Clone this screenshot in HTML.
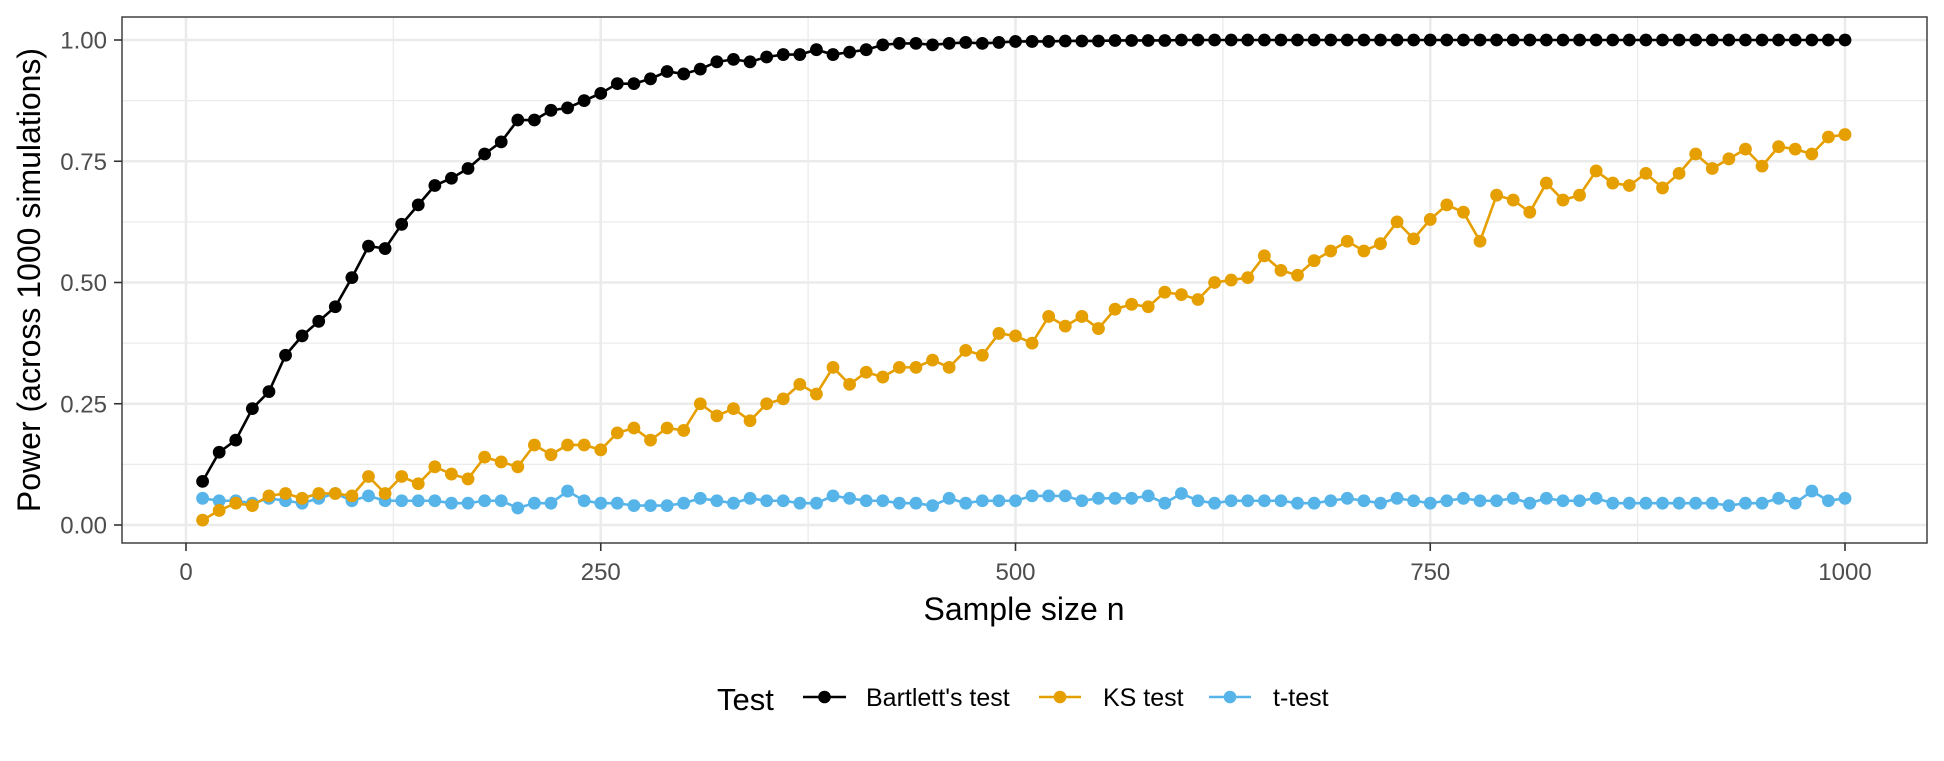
<!DOCTYPE html>
<html><head><meta charset="utf-8"><style>
body{margin:0;background:#fff;font-family:"Liberation Sans",sans-serif;}
svg text{font-family:"Liberation Sans",sans-serif;}
</style></head><body>
<svg id="chart" width="1944" height="756" xmlns="http://www.w3.org/2000/svg">
<rect x="0" y="0" width="1944" height="756" fill="#fff"/>
<g id="grid"></g>
<g id="series"></g>
<rect x="122" y="17" width="1805" height="526" fill="none" stroke="#333" stroke-width="1.4"/>
<g id="axes"></g>
<text x="40" y="280" font-size="32" text-anchor="middle" transform="rotate(-90 40 280)" fill="#000">Power (across 1000 simulations)</text>
<text x="1024" y="620" font-size="32" text-anchor="middle" fill="#000">Sample size n</text>
<g>
<text x="717" y="710" font-size="31" fill="#000">Test</text>
<g><line x1="803" y1="697" x2="846" y2="697" stroke="#000" stroke-width="2.6"/><circle cx="824.5" cy="697" r="6.3" fill="#000"/><text x="866" y="706" font-size="25" fill="#000">Bartlett's test</text></g>
<g><line x1="1039" y1="697" x2="1081" y2="697" stroke="#E69F00" stroke-width="2.6"/><circle cx="1060" cy="697" r="6.3" fill="#E69F00"/><text x="1103" y="706" font-size="25" fill="#000">KS test</text></g>
<g><line x1="1209" y1="697" x2="1251" y2="697" stroke="#56B4E9" stroke-width="2.6"/><circle cx="1230" cy="697" r="6.3" fill="#56B4E9"/><text x="1273" y="706" font-size="25" fill="#000">t-test</text></g>
</g>
</svg>
<script>
const sampleSizes = Array.from({length:100},(_,i)=>(i+1)*10);
const bartlett = [0.09,0.15,0.175,0.24,0.275,0.35,0.39,0.42,0.45,0.51,0.575,0.57,0.62,0.66,0.70,0.715,0.735,0.765,0.79,0.835,0.835,0.855,0.86,0.875,0.89,0.91,0.91,0.92,0.935,0.93,0.94,0.955,0.96,0.955,0.965,0.97,0.97,0.98,0.97,0.975,0.98,0.99,0.993,0.993,0.99,0.993,0.995,0.993,0.995,0.997,0.997,0.997,0.998,0.998,0.998,0.999,0.999,0.999,0.999,1,1,1,1,1,1,1,1,1,1,1,1,1,1,1,1,1,1,1,1,1,1,1,1,1,1,1,1,1,1,1,1,1,1,1,1,1,1,1,1,1];
const ks = [0.01,0.03,0.045,0.04,0.06,0.065,0.055,0.065,0.065,0.06,0.10,0.065,0.10,0.085,0.12,0.105,0.095,0.14,0.13,0.12,0.165,0.145,0.165,0.165,0.155,0.19,0.20,0.175,0.20,0.195,0.25,0.225,0.24,0.215,0.25,0.26,0.29,0.27,0.325,0.29,0.315,0.305,0.325,0.325,0.34,0.325,0.36,0.35,0.395,0.39,0.375,0.43,0.41,0.43,0.405,0.445,0.455,0.45,0.48,0.475,0.465,0.50,0.505,0.51,0.555,0.525,0.515,0.545,0.565,0.585,0.565,0.58,0.625,0.59,0.63,0.66,0.645,0.585,0.68,0.67,0.645,0.705,0.67,0.68,0.73,0.705,0.70,0.725,0.695,0.725,0.765,0.735,0.755,0.775,0.74,0.78,0.775,0.765,0.80,0.805];
const ttest = [0.055,0.05,0.05,0.045,0.055,0.05,0.045,0.055,0.065,0.05,0.06,0.05,0.05,0.05,0.05,0.045,0.045,0.05,0.05,0.035,0.045,0.045,0.07,0.05,0.045,0.045,0.04,0.04,0.04,0.045,0.055,0.05,0.045,0.055,0.05,0.05,0.045,0.045,0.06,0.055,0.05,0.05,0.045,0.045,0.04,0.055,0.045,0.05,0.05,0.05,0.06,0.06,0.06,0.05,0.055,0.055,0.055,0.06,0.045,0.065,0.05,0.045,0.05,0.05,0.05,0.05,0.045,0.045,0.05,0.055,0.05,0.045,0.055,0.05,0.045,0.05,0.055,0.05,0.05,0.055,0.045,0.055,0.05,0.05,0.055,0.045,0.045,0.045,0.045,0.045,0.045,0.045,0.04,0.045,0.045,0.055,0.045,0.07,0.05,0.055];
const xTicks = [0,250,500,750,1000];
const yTicks = [0,0.25,0.5,0.75,1];
const yTickLabels = ["0.00","0.25","0.50","0.75","1.00"];

const NS="http://www.w3.org/2000/svg";
const xs = v => 186 + v*(1845-186)/1000;
const ys = v => 525 - v*485;
function mk(tag, attrs, parent){const e=document.createElementNS(NS,tag);for(const k in attrs)e.setAttribute(k,attrs[k]);parent.appendChild(e);return e;}
const grid=document.getElementById('grid'), axes=document.getElementById('axes'), series=document.getElementById('series');
for(let i=0;i<4;i++){
  const l=mk('line',{x1:122,x2:1927,y1:ys(0.125+i*0.25),y2:ys(0.125+i*0.25),stroke:'#ebebeb','stroke-width':1.3},grid);
  
  
  const m=mk('line',{y1:17,y2:543,x1:xs(125+i*250),x2:xs(125+i*250),stroke:'#ebebeb','stroke-width':1.3},grid);
  
  
}
yTicks.forEach((t,i)=>{
  const l=mk('line',{x1:122,x2:1927,y1:ys(t),y2:ys(t),stroke:'#ebebeb','stroke-width':2.6},grid);
  
  
  mk('line',{x1:114,x2:122,y1:ys(t),y2:ys(t),stroke:'#333','stroke-width':1.6},axes);
  const tx=mk('text',{x:107,y:ys(t)+8.5,'font-size':24,'text-anchor':'end',fill:'#4d4d4d'},axes);
  tx.textContent=yTickLabels[i];
  
  
});
xTicks.forEach(t=>{
  const l=mk('line',{y1:17,y2:543,x1:xs(t),x2:xs(t),stroke:'#ebebeb','stroke-width':2.6},grid);
  
  
  mk('line',{y1:543,y2:551,x1:xs(t),x2:xs(t),stroke:'#333','stroke-width':1.6},axes);
  const tx=mk('text',{x:xs(t),y:580,'font-size':24,'text-anchor':'middle',fill:'#4d4d4d'},axes);
  tx.textContent=String(t);
  
  
});
function draw(vals,color,name){
  const g=mk('g',{},series);
  
  
  const pts=vals.map((v,i)=>xs(sampleSizes[i])+','+ys(v)).join(' ');
  const pl=mk('polyline',{points:pts,fill:'none',stroke:color,'stroke-width':2.6},g);
  
  
  vals.forEach((v,i)=>{
    const c=mk('circle',{cx:xs(sampleSizes[i]),cy:ys(v),r:6.4,fill:color},g);
    
    
  });
}
draw(ttest,'#56B4E9','ttest');
draw(ks,'#E69F00','ks');
draw(bartlett,'#000000','bartlett');
</script>
</body></html>
